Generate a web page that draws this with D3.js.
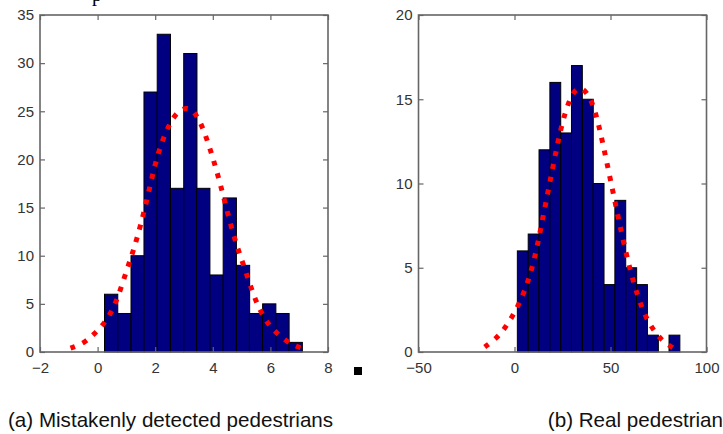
<!DOCTYPE html>
<html><head><meta charset="utf-8">
<script src="https://cdn.jsdelivr.net/npm/d3@7"></script>
<style>body{margin:0;background:#fff}svg{display:block}</style>
</head><body><svg id="c" width="723" height="434"></svg>
<script>
// ---------- data ----------
const leftBinCenters = [0.47, 0.93, 1.39, 1.84, 2.30, 2.76, 3.22, 3.67, 4.13, 4.59, 5.05, 5.50, 5.96, 6.42, 6.88];
const leftCounts     = [6, 4, 10, 27, 33, 17, 31, 17, 8, 16, 9, 4, 5, 4, 1];
const leftFitX = [-0.94, -0.47, -0.13, 0.16, 0.45, 0.7, 1.0, 1.25, 1.5, 1.75, 2.0, 2.25, 2.5, 2.75, 3.1, 3.4, 3.7, 4.0, 4.25, 4.5, 4.75, 5.0, 5.25, 5.5, 5.75, 6.0, 6.35, 6.75, 7.1];
const leftFitY = [0.4, 0.9, 1.85, 2.7, 3.95, 5.6, 8.4, 10.6, 13.2, 16.3, 19.6, 22.0, 23.7, 24.9, 25.5, 24.9, 23.0, 20.2, 17.6, 14.6, 11.8, 9.6, 7.4, 5.2, 3.7, 2.6, 1.6, 0.75, 0.38];
const leftXTicks = [-2, 0, 2, 4, 6, 8];
const leftYTicks = [0, 5, 10, 15, 20, 25, 30, 35];

const rightBinCenters = [4.31, 9.96, 15.6, 21.25, 26.9, 32.5, 38.2, 43.8, 49.5, 55.1, 60.8, 66.4, 72.1, 77.7, 83.3];
const rightCounts     = [6, 7, 12, 16, 13, 17, 15, 10, 4, 9, 5, 4, 1, 0, 1];
const rightFitX = [-15.5, -9.5, -5, 0, 5, 10, 15, 20, 25, 30, 34, 38, 42, 46, 50, 54, 58, 62, 66, 70, 75, 79, 82.5];
const rightFitY = [0.3, 0.8, 1.4, 2.3, 3.5, 5.2, 8.1, 11.0, 13.8, 15.4, 15.75, 15.4, 14.4, 12.4, 10.2, 8.0, 5.9, 4.1, 2.7, 1.7, 0.9, 0.5, 0.25];
const rightXTicks = [-50, 0, 50, 100];
const rightYTicks = [0, 5, 10, 15, 20];

const captions = ["(a) Mistakenly detected pedestrians", "(b) Real pedestrian"];

// ---------- drawing ----------
const svg = d3.select("#c");
const AX = "#666", TXT = "#333";

function panel(cfg) {
  const x = d3.scaleLinear().domain(cfg.xDomain).range(cfg.xRange);
  const y = d3.scaleLinear().domain(cfg.yDomain).range([352, 15]);
  const g = svg.append("g");
  const w = cfg.centers[1] - cfg.centers[0];

  g.selectAll("rect.bar").data(cfg.counts.map((c, i) => ({c, x: cfg.centers[i]})).filter(d => d.c > 0))
    .join("rect").attr("class", "bar")
    .attr("x", d => x(d.x - w / 2)).attr("width", d => x(d.x + w / 2) - x(d.x - w / 2))
    .attr("y", d => y(d.c)).attr("height", d => y(0) - y(d.c))
    .attr("fill", "#000080").attr("stroke", "#000").attr("stroke-width", 1);

  const line = d3.line().x(d => x(d[0])).y(d => y(d[1])).curve(d3.curveBasis);
  g.append("path").datum(cfg.fitX.map((v, i) => [v, cfg.fitY[i]]))
    .attr("d", line).attr("fill", "none").attr("stroke", "#ff0000")
    .attr("stroke-width", 5).attr("stroke-dasharray", "5 8");

  const style = sel => {
    sel.select(".domain").remove();
    sel.selectAll(".tick line").attr("stroke", AX).attr("stroke-width", 1.2);
    sel.selectAll(".tick text").attr("fill", TXT).attr("font-family", "Liberation Sans, Arial, sans-serif").attr("font-size", 15);
  };
  g.append("g").attr("transform", "translate(0,352)")
    .call(d3.axisBottom(x).tickValues(cfg.xTicks).tickSize(-5).tickPadding(10).tickFormat(d3.format("d"))).call(style);
  g.append("g").attr("transform", "translate(0,15)")
    .call(d3.axisTop(x).tickValues(cfg.xTicks).tickSize(-5).tickFormat("")).call(style);
  g.append("g").attr("transform", `translate(${cfg.xRange[0]},0)`)
    .call(d3.axisLeft(y).tickValues(cfg.yTicks).tickSize(-5).tickPadding(6).tickFormat(d3.format("d"))).call(style);
  g.append("g").attr("transform", `translate(${cfg.xRange[1]},0)`)
    .call(d3.axisRight(y).tickValues(cfg.yTicks).tickSize(-5).tickFormat("")).call(style);

  g.append("rect").attr("x", cfg.xRange[0]).attr("y", 15)
    .attr("width", cfg.xRange[1] - cfg.xRange[0]).attr("height", 337)
    .attr("fill", "none").attr("stroke", AX).attr("stroke-width", 1.6);
}

panel({xDomain: [-2, 8], xRange: [40, 328], yDomain: [0, 35], centers: leftBinCenters, counts: leftCounts,
       fitX: leftFitX, fitY: leftFitY, xTicks: leftXTicks, yTicks: leftYTicks});
panel({xDomain: [-50, 100], xRange: [418.5, 706.5], yDomain: [0, 20], centers: rightBinCenters, counts: rightCounts,
       fitX: rightFitX, fitY: rightFitY, xTicks: rightXTicks, yTicks: rightYTicks});

// stray marks
svg.append("rect").attr("x", 354).attr("y", 367).attr("width", 8).attr("height", 8).attr("fill", "#000");
svg.append("text").attr("x", 92).attr("y", 1).attr("font-family", "Liberation Serif, Times New Roman, serif")
  .attr("font-size", 20).attr("fill", "#000").text("p");

// captions
svg.append("text").attr("x", 8).attr("y", 427).attr("font-family", "Liberation Sans, Arial, sans-serif")
  .attr("font-size", 20.6).attr("fill", "#111").text(captions[0]);
svg.append("text").attr("x", 723).attr("y", 427).attr("text-anchor", "end").attr("font-family", "Liberation Sans, Arial, sans-serif")
  .attr("font-size", 20.6).attr("fill", "#111").text(captions[1]);
</script></body></html>
